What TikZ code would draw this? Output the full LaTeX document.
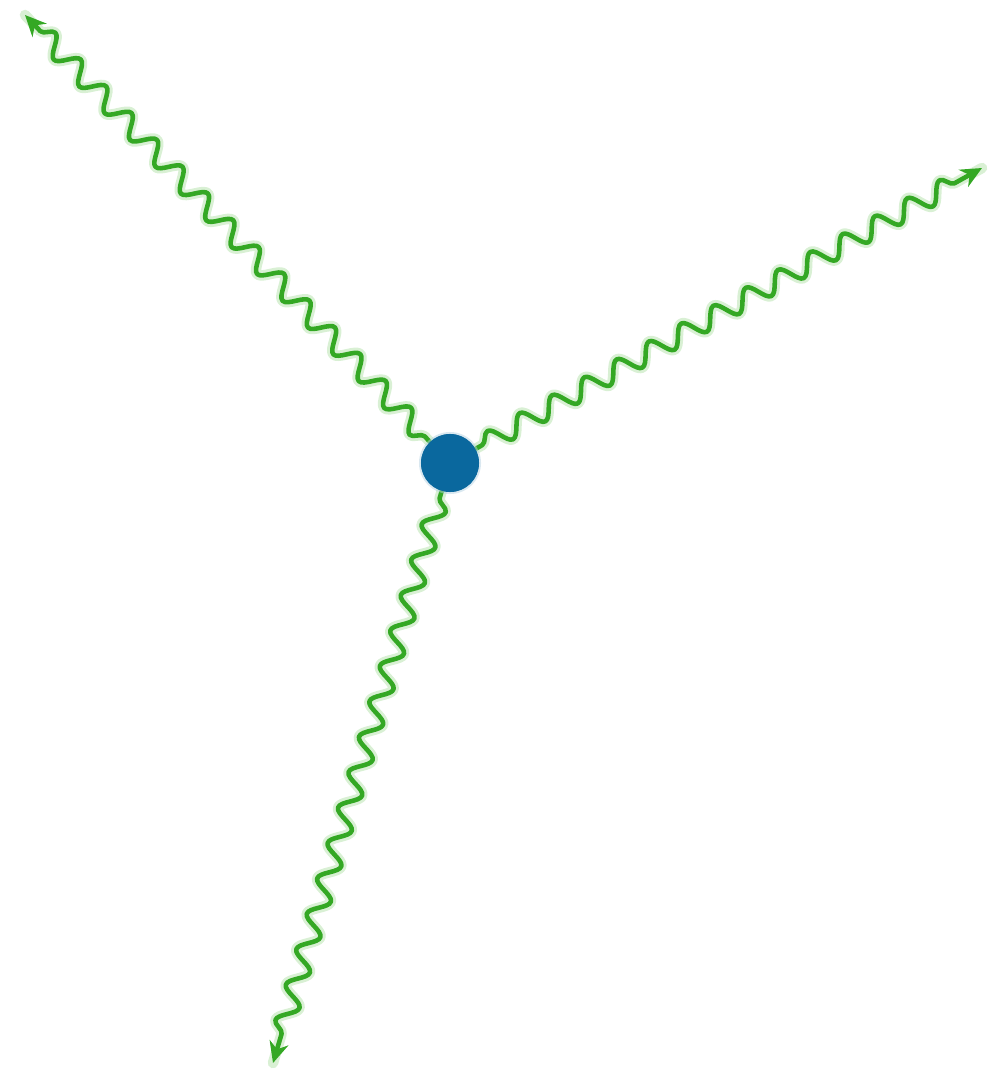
\documentclass[tikz,border=0pt]{standalone}
\usetikzlibrary{decorations.pathmorphing,arrows.meta}
\definecolor{wavegreen}{RGB}{52,168,36}
\definecolor{glowgreen}{RGB}{170,222,160}
\definecolor{dotblue}{RGB}{10,104,158}
\tikzset{
  wavedeco/.style={decorate, decoration={snake, amplitude=2.8pt, segment length=10.5pt, pre length=2pt, post length=6pt}},
  photon/.style={draw=wavegreen, line width=1.3pt, line cap=round, line join=round, wavedeco,
    -{Stealth[length=6pt,width=5.5pt]}},
  photonglow/.style={draw=glowgreen, line width=3pt, line cap=round, line join=round, opacity=0.45, wavedeco},
  vertex/.style={circle, fill=dotblue, minimum size=0.58cm, inner sep=0pt}
}
\begin{document}
\begin{tikzpicture}[x=0.01cm,y=-0.01cm]
\useasboundingbox (0,0) rectangle (1005,1076);
\node[vertex] (v) at (450,463) {};
\coordinate (a) at (25,15);
\coordinate (b) at (982,168);
\coordinate (c) at (273,1063);
\path[photonglow] (v) -- (a);
\path[photonglow] (v) -- (b);
\path[photonglow] (v) -- (c);
\path[photon] (v) -- (a);
\path[photon] (v) -- (b);
\path[photon] (v) -- (c);
\node[circle, fill=dotblue!30, minimum size=0.62cm, inner sep=0pt, opacity=0.5] at (v) {};
\node[vertex] at (v) {};
\end{tikzpicture}
\end{document}
